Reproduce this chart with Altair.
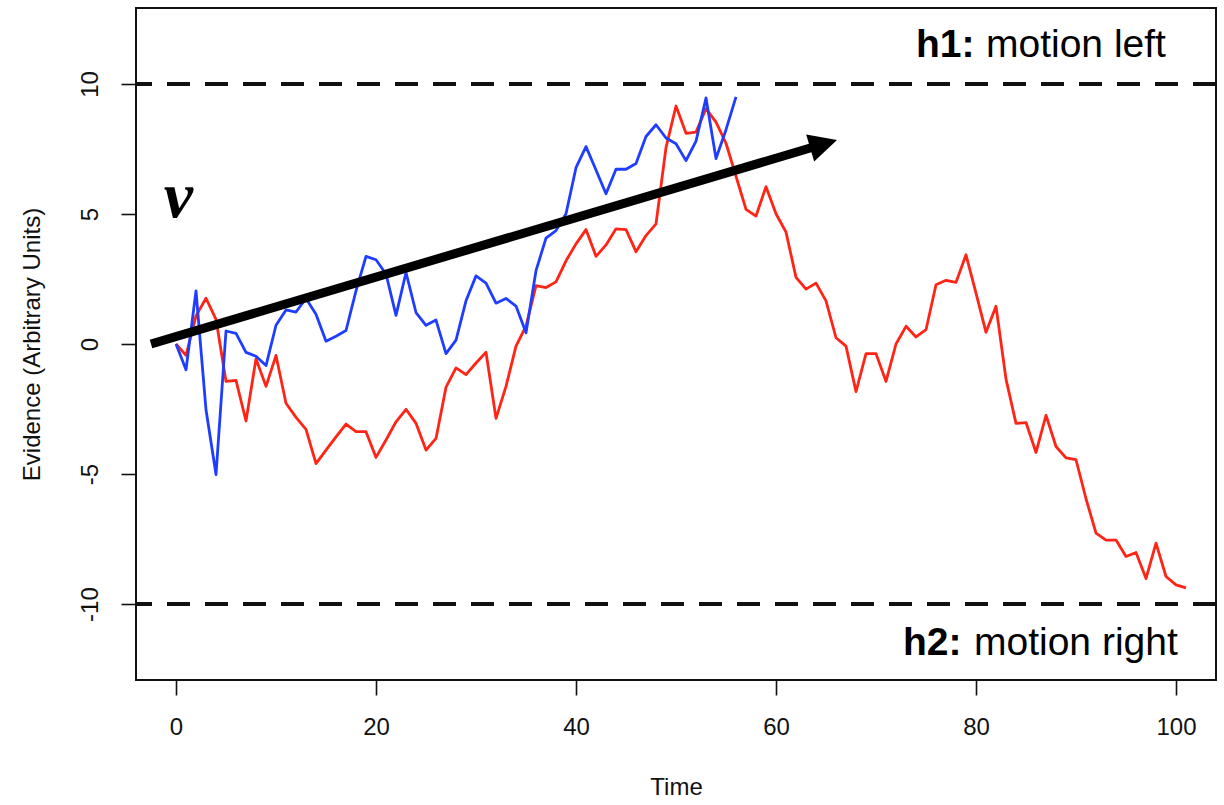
import altair as alt
import pandas as pd

# ---- data ----
time_red = list(range(102))
evidence_red = [
    0.00, -0.44, 1.08, 1.76, 0.95, -1.44, -1.40, -2.96, -0.57, -1.63,
    -0.44, -2.28, -2.82, -3.28, -4.60, -4.08, -3.57, -3.08, -3.37, -3.37,
    -4.36, -3.69, -2.99, -2.51, -3.05, -4.08, -3.63, -1.66, -0.92, -1.18,
    -0.73, -0.32, -2.86, -1.63, -0.08, 0.69, 2.24, 2.17, 2.39, 3.20,
    3.85, 4.40, 3.37, 3.81, 4.43, 4.40, 3.55, 4.17, 4.62, 7.55,
    9.15, 8.10, 8.15, 9.05, 8.53, 7.72, 6.45, 5.18, 4.92, 6.05,
    5.01, 4.30, 2.56, 2.11, 2.34, 1.66, 0.24, -0.08, -1.83, -0.37,
    -0.37, -1.44, 0.00, 0.68, 0.27, 0.55, 2.28, 2.45, 2.37, 3.43,
    1.96, 0.45, 1.45, -1.35, -3.05, -3.02, -4.17, -2.74, -3.94, -4.38,
    -4.45, -5.95, -7.27, -7.54, -7.54, -8.17, -8.02, -9.02, -7.66, -8.94,
    -9.26, -9.38,
]
time_blue = list(range(57))
evidence_blue = [
    0.00, -0.99, 2.04, -2.53, -5.02, 0.50, 0.41, -0.32, -0.47, -0.83,
    0.72, 1.31, 1.23, 1.75, 1.14, 0.11, 0.30, 0.52, 2.04, 3.37,
    3.24, 2.69, 1.10, 2.75, 1.21, 0.72, 0.92, -0.37, 0.15, 1.66,
    2.62, 2.34, 1.57, 1.75, 1.46, 0.43, 2.82, 4.07, 4.36, 5.01,
    6.78, 7.59, 6.69, 5.78, 6.72, 6.72, 6.94, 7.98, 8.43, 7.92,
    7.70, 7.05, 7.80, 9.46, 7.13, 8.24, 9.50,
]
bounds = [10, -10]
x_ticks = [0, 20, 40, 60, 80, 100]
y_ticks = [-10, -5, 0, 5, 10]
x_title = "Time"
y_title = "Evidence (Arbitrary Units)"

red_df = pd.DataFrame({"t": time_red, "v": evidence_red})
blue_df = pd.DataFrame({"t": time_blue, "v": evidence_blue})
bound_df = pd.DataFrame({"v": bounds})

FONT = "Liberation Sans"
INK = "#111111"
HYPHEN_LABEL = "datum.value < 0 ? '-' + abs(datum.value) : '' + datum.value"

x_scale = alt.Scale(domain=[-4, 104], nice=False, zero=False)
y_scale = alt.Scale(domain=[-12.92, 12.92], nice=False, zero=False)

X = alt.X(
    "t:Q", scale=x_scale,
    axis=alt.Axis(
        values=x_ticks, title=x_title, domain=False, grid=False,
        tickSize=15, tickColor=INK, tickWidth=1.6,
        labelFont=FONT, labelFontSize=24, labelColor=INK, labelPadding=20,
        labelOverlap=False, labelFlush=False, labelExpr=HYPHEN_LABEL,
        titleFont=FONT, titleFontSize=24, titleFontWeight="normal", titleColor=INK,
        titleY=114, titleBaseline="alphabetic",
    ),
)
Y = alt.Y(
    "v:Q", scale=y_scale,
    axis=alt.Axis(
        values=y_ticks, title=y_title, domain=False, grid=False,
        tickSize=15, tickColor=INK, tickWidth=1.6,
        labelFont=FONT, labelFontSize=24, labelColor=INK, labelPadding=24,
        labelAngle=270, labelAlign="center", labelBaseline="alphabetic",
        labelOverlap=False, labelFlush=False, labelExpr=HYPHEN_LABEL,
        titleFont=FONT, titleFontSize=24, titleFontWeight="normal", titleColor=INK,
        titleAngle=270, titleX=-104, titleY=336, titleAlign="center",
        titleBaseline="middle",
    ),
)

dashed = alt.Chart(bound_df).mark_rule(
    color=INK, strokeWidth=4, strokeDash=[23, 15]
).encode(y=Y)

red = alt.Chart(red_df).mark_line(
    color="#ff2415", strokeWidth=2.8, strokeJoin="round"
).encode(x=X, y=Y)

blue = alt.Chart(blue_df).mark_line(
    color="#1f3dff", strokeWidth=2.8, strokeJoin="round"
).encode(x=X, y=Y)

shaft = alt.Chart(pd.DataFrame({"t": [-2.5, 64.76], "v": [0.0, 7.69]})).mark_line(
    color="#000000", strokeWidth=9, strokeCap="butt"
).encode(x=X, y=Y)

head = alt.Chart(pd.DataFrame({"t": [64.76], "v": [7.69]})).mark_point(
    shape="M 1 0 L -1 -1 L -1 1 Z", filled=True, color="#000000",
    size=784, angle=343.44, opacity=1, strokeWidth=0
).encode(x=X, y=Y)

v_label = alt.Chart(pd.DataFrame({"t": [0.25], "v": [4.88], "s": ["v"]})).mark_text(
    font="Liberation Serif", fontStyle="italic", fontWeight="bold",
    fontSize=66, align="center", baseline="alphabetic", color="#000000"
).encode(x=X, y=Y, text="s:N")

def label(t, v, s, weight):
    return alt.Chart(pd.DataFrame({"t": [t], "v": [v], "s": [s]})).mark_text(
        font=FONT, fontSize=39, fontWeight=weight, align="left",
        baseline="alphabetic", color="#000000"
    ).encode(x=X, y=Y, text="s:N")

h1a = label(74.0, 11.04, "h1:", "bold")
h1b = label(81.0, 11.04, "motion left", "normal")
h2a = label(72.7, -11.96, "h2:", "bold")
h2b = label(79.8, -11.96, "motion right", "normal")

chart = alt.layer(
    dashed, red, blue, shaft, head, v_label, h1a, h1b, h2a, h2b
).properties(
    width=1080, height=672,
    padding={"left": 136, "top": 8, "right": 8, "bottom": 125},
    autosize=alt.AutoSizeParams(type="none"),
    background="white",
).configure_view(
    stroke=INK, strokeWidth=2
)

chart.save("out.html", embed_options={"renderer": "svg", "actions": False})
